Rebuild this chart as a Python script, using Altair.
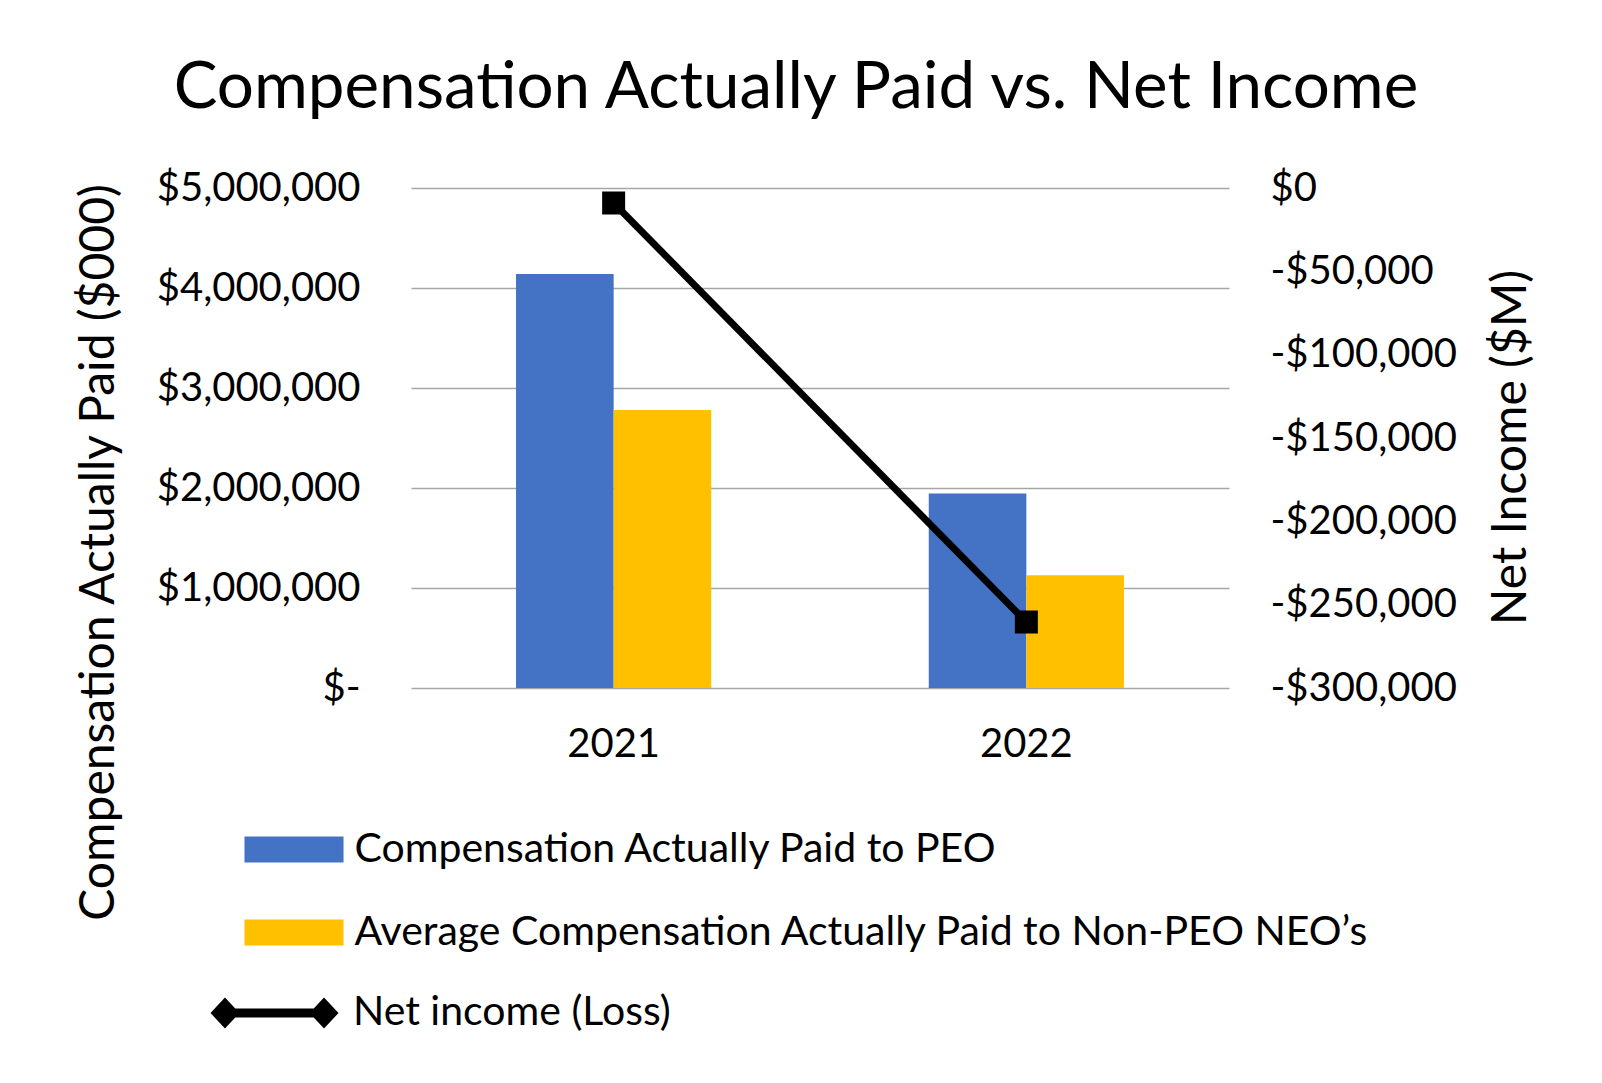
import altair as alt
import pandas as pd

# ---- data ----
years = ["2021", "2022"]
bar_series = ["Compensation Actually Paid to PEO",
              "Average Compensation Actually Paid to Non-PEO NEO’s"]
peo_cap = [4140000, 1945000]
neo_cap = [2780000, 1128000]
line_series = ["Net income (Loss)"]
net_income = [-9000, -260400]
bar_colors = ["#4472C4", "#FFC000"]
left_ticks = [0, 1000000, 2000000, 3000000, 4000000, 5000000]
right_ticks = [0, -50000, -100000, -150000, -200000, -250000, -300000]

bars_df = pd.DataFrame({
    "Year": years * 2,
    "Series": [bar_series[0]] * len(years) + [bar_series[1]] * len(years),
    "Value": peo_cap + neo_cap,
})
line_df = pd.DataFrame({
    "Year": years,
    "Series": line_series * len(years),
    "NetIncome": net_income,
})

FONT = "Lato"
LBL = 40
NBSP = "\u00a0"
RECT_PATH = "M-3.81,-1H3.81V1H-3.81Z"
LINE_PATH = ("M-4.13,0L-3.195,-1L-2.531,-0.29H2.531L3.195,-1L4.13,0"
             "L3.195,1L2.531,0.29H-2.531L-3.195,1Z")

x_enc = alt.X(
    "Year:N",
    sort=years,
    scale=alt.Scale(domain=years, paddingInner=0.527, paddingOuter=0.2545),
    axis=alt.Axis(title=None, labelFont=FONT, labelFontSize=LBL, labelColor="black",
                  labelPadding=56, labelBaseline="middle", labelAngle=0,
                  ticks=False, tickSize=0, domain=False, grid=False),
)

bars = alt.Chart(bars_df).mark_bar().encode(
    x=x_enc,
    xOffset=alt.XOffset("Series:N", sort=bar_series,
                        scale=alt.Scale(domain=bar_series, paddingInner=0, paddingOuter=0)),
    y=alt.Y("Value:Q",
            scale=alt.Scale(domain=[0, 5000000], nice=False),
            axis=alt.Axis(values=left_ticks,
                          labelExpr="datum.value == 0 ? '$-" + NBSP * 3 + "' : '$' + format(datum.value, ',')",
                          grid=True, gridColor="#a6a6a6", gridWidth=1.5,
                          domain=False, ticks=False, tickSize=0, labelPadding=51,
                          labelFont=FONT, labelFontSize=LBL, labelColor="black", labelLimit=0,
                          title="Compensation Actually Paid ($000)", titleFont=FONT,
                          titleFontSize=48, titleFontWeight="normal", titleColor="black",
                          titleAngle=270, titleX=-312, titleY=364,
                          titleAlign="center", titleBaseline="middle")),
    color=alt.Color("Series:N",
                    scale=alt.Scale(domain=bar_series, range=bar_colors),
                    legend=alt.Legend(title=None, orient="none", legendX=-137.5, legendY=641,
                                      direction="vertical", symbolType=RECT_PATH,
                                      symbolSize=676, symbolStrokeWidth=0, symbolOffset=0,
                                      labelOffset=40, labelFont=FONT, labelFontSize=41,
                                      labelColor="black", labelLimit=0, rowPadding=41,
                                      padding=0)),
)

right_axis = alt.Axis(orient="right", values=right_ticks,
                      labelExpr="datum.value == 0 ? '$0' : '-$' + format(-datum.value, ',')",
                      grid=False, domain=False, ticks=False, tickSize=0, labelPadding=41,
                      labelAlign="left", labelFont=FONT, labelFontSize=LBL, labelColor="black",
                      labelLimit=0,
                      title="Net Income ($M)", titleFont=FONT, titleFontSize=48,
                      titleFontWeight="normal", titleColor="black",
                      titleAngle=270, titleX=282, titleY=259,
                      titleAlign="center", titleBaseline="middle")
right_y = alt.Y("NetIncome:Q", scale=alt.Scale(domain=[-300000, 0], nice=False), axis=right_axis)

line = alt.Chart(line_df).mark_line(color="black", strokeWidth=7).encode(
    x=alt.X("Year:N", sort=years),
    y=right_y,
)
points = alt.Chart(line_df).mark_point(shape="square", size=529, filled=True,
                                       opacity=1, strokeWidth=0).encode(
    x=alt.X("Year:N", sort=years),
    y=right_y,
    color=alt.Color("Series:N",
                    scale=alt.Scale(domain=line_series, range=["black"]),
                    legend=alt.Legend(title=None, orient="none", legendX=-157, legendY=804.5,
                                      direction="vertical", symbolType=LINE_PATH,
                                      symbolSize=961, symbolStrokeWidth=0, symbolOffset=0,
                                      symbolOpacity=1,
                                      labelOffset=58, labelFont=FONT, labelFontSize=41,
                                      labelColor="black", labelLimit=0, padding=0)),
)

chart = alt.layer(bars, alt.layer(line, points)).resolve_scale(
    y="independent", color="independent"
).properties(
    width=818,
    height=500,
    padding={"left": 403, "top": 180, "right": 360, "bottom": 370},
    autosize=alt.AutoSizeParams(type="none"),
    title=alt.TitleParams(text="Compensation Actually Paid vs. Net Income", font=FONT,
                          fontSize=65.5, fontWeight="normal", color="black",
                          anchor="middle", dx=-24, dy=-43),
).configure(background="white").configure_view(stroke=None)

chart.save("out.html", embed_options={"renderer": "svg", "actions": False})
